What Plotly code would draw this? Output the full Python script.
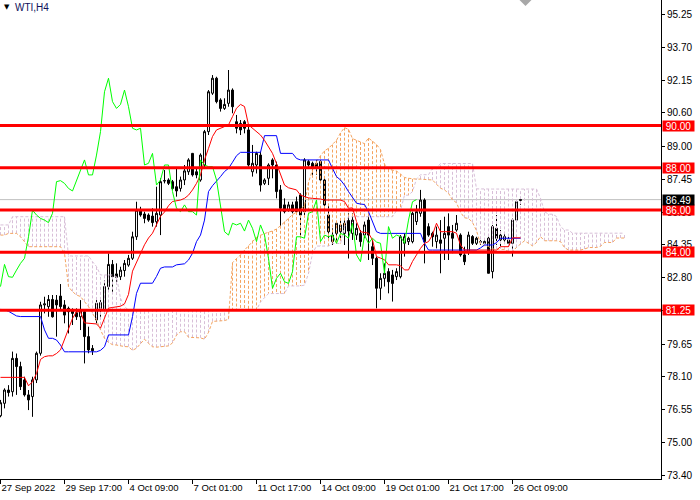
import plotly.graph_objects as go

# ---------------- data ----------------
symbol_label = "WTI,H4"
x_tick_idx = [0, 16, 32, 48, 64, 80, 96, 112, 128]
x_tick_text = ["27 Sep 2022", "29 Sep 17:00", "4 Oct 09:00", "7 Oct 01:00", "11 Oct 17:00",
               "14 Oct 09:00", "19 Oct 01:00", "21 Oct 17:00", "26 Oct 09:00"]
y_tick_vals = [95.25, 93.70, 92.15, 90.60, 89.00, 87.45, 85.90, 84.35, 82.80, 81.25,
               79.65, 78.10, 76.55, 75.00, 73.40]
levels = [90.00, 88.00, 86.00, 84.00, 81.25]
last_price = 86.49
chikou_shift = 26

opens = [76.25, 76.84, 77.47, 77.39, 78.97, 78.58, 77.95, 77.24, 77.16, 77.95,
         79.21, 81.50, 81.42, 81.76, 81.73, 81.92, 81.50, 81.34, 81.26, 81.13,
         80.94, 81.18, 80.00, 79.44, 80.79, 81.34, 81.26, 82.37, 83.42, 82.97,
         82.84, 83.13, 83.39, 83.71, 84.73, 85.99, 85.81, 85.76, 85.71, 85.44,
         85.76, 87.37, 87.42, 87.34, 87.10, 87.02, 87.42, 87.81, 88.68, 87.81,
         87.42, 88.13, 89.71, 91.53, 92.24, 91.21, 90.81, 91.05, 91.68, 90.18,
         90.10, 90.18, 89.79, 87.81, 88.13, 88.60, 87.26, 87.50, 88.37, 88.13,
         86.95, 86.24, 86.00, 86.24, 86.39, 86.71, 85.92, 88.29, 88.21, 88.21,
         88.29, 87.42, 85.76, 84.50, 84.89, 84.97, 84.89, 85.50, 84.89, 84.81,
         84.89, 84.81, 85.52, 84.26, 83.71, 82.29, 82.76, 83.08, 82.92, 82.84,
         82.84, 84.42, 84.50, 84.50, 85.45, 85.84, 86.47, 85.21, 84.89, 84.50,
         84.58, 84.66, 85.21, 84.89, 85.05, 84.81, 83.87, 84.03, 84.74, 84.42,
         84.50, 84.50, 84.66, 83.08, 85.13, 84.58, 84.58, 84.58, 84.42, 85.52,
         86.45]
highs = [77.00, 77.55, 77.70, 79.29, 79.20, 78.81, 78.10, 77.47, 78.10, 79.29,
         81.65, 81.89, 81.97, 81.97, 81.97, 82.49, 81.73, 81.42, 81.34, 81.34,
         81.73, 81.26, 80.47, 79.60, 81.73, 81.73, 82.68, 83.94, 83.63, 83.47,
         83.31, 83.63, 83.87, 84.97, 86.39, 86.15, 85.92, 85.84, 86.08, 87.10,
         87.50, 87.89, 87.50, 87.42, 87.97, 87.58, 88.13, 88.45, 88.70, 87.97,
         88.68, 89.79, 91.68, 92.39, 92.31, 91.29, 91.29, 92.63, 91.76, 90.50,
         90.26, 90.26, 90.03, 89.08, 88.76, 88.76, 87.50, 88.21, 88.45, 88.29,
         87.18, 86.55, 86.39, 86.39, 86.63, 86.79, 88.45, 88.37, 88.29, 88.37,
         88.37, 87.50, 86.24, 85.13, 85.45, 85.52, 85.52, 85.84, 85.84, 85.37,
         85.05, 85.45, 85.84, 84.58, 83.79, 83.00, 83.47, 83.24, 83.16, 83.24,
         84.81, 84.89, 84.73, 85.92, 86.24, 86.95, 86.55, 85.37, 84.97, 85.21,
         85.52, 85.68, 85.84, 85.29, 85.76, 84.89, 84.26, 84.97, 84.81, 84.73,
         84.58, 84.58, 84.73, 85.29, 85.76, 85.05, 84.89, 84.73, 85.60, 86.47,
         86.55]
lows = [76.18, 76.60, 77.16, 77.16, 77.24, 77.47, 77.16, 76.52, 76.20, 77.80,
        79.10, 81.10, 80.94, 80.90, 80.00, 81.26, 80.63, 80.15, 80.55, 80.79,
        80.31, 78.73, 79.21, 79.13, 80.63, 80.94, 81.10, 82.21, 82.05, 82.60,
        82.68, 82.84, 83.31, 83.63, 84.58, 85.68, 85.37, 85.44, 85.21, 85.21,
        84.81, 87.26, 87.18, 86.95, 86.63, 86.87, 87.18, 87.66, 87.58, 87.50,
        87.34, 87.97, 89.55, 91.45, 91.05, 90.66, 90.74, 90.89, 90.58, 89.63,
        89.55, 89.63, 88.05, 87.58, 87.73, 86.87, 87.18, 87.18, 87.50, 86.55,
        85.21, 85.84, 85.92, 85.84, 85.84, 84.66, 85.76, 88.05, 87.66, 87.66,
        87.34, 85.92, 84.66, 84.34, 84.42, 84.58, 84.34, 83.70, 84.58, 84.58,
        84.26, 84.66, 83.63, 83.39, 81.34, 81.74, 82.37, 82.05, 81.66, 82.68,
        82.76, 83.79, 84.34, 84.42, 85.29, 85.68, 83.47, 84.73, 84.26, 84.18,
        83.00, 83.63, 83.63, 83.95, 84.97, 83.79, 83.39, 83.87, 84.34, 84.34,
        84.34, 84.34, 83.00, 82.76, 84.34, 84.26, 84.42, 84.26, 83.79, 85.45,
        86.24]
closes = [76.87, 77.47, 77.35, 78.97, 78.58, 77.63, 77.24, 77.00, 77.95, 79.21,
          81.50, 81.55, 81.76, 80.94, 81.50, 81.42, 81.02, 81.18, 81.10, 80.94,
          81.26, 80.00, 79.37, 79.33, 81.58, 81.61, 82.37, 83.42, 82.84, 82.81,
          83.15, 83.47, 83.71, 84.73, 85.99, 85.76, 85.60, 85.52, 85.40, 85.84,
          87.34, 87.39, 87.26, 87.02, 86.90, 87.42, 87.85, 88.37, 87.66, 87.66,
          88.60, 89.71, 91.60, 92.24, 91.13, 90.81, 91.00, 91.68, 90.89, 89.87,
          89.79, 89.87, 88.13, 88.21, 88.68, 87.18, 87.42, 88.13, 88.13, 86.87,
          86.08, 85.92, 86.24, 85.92, 85.92, 85.76, 88.37, 88.13, 88.05, 88.05,
          87.42, 86.24, 84.97, 84.81, 85.37, 85.29, 85.37, 85.00, 85.52, 85.13,
          84.50, 85.29, 84.81, 83.71, 82.29, 82.76, 83.00, 82.60, 82.52, 83.08,
          84.73, 84.73, 84.66, 85.84, 85.92, 86.47, 84.50, 84.81, 84.73, 84.81,
          84.42, 84.89, 84.81, 84.66, 85.37, 83.87, 83.55, 84.81, 84.42, 84.66,
          84.48, 84.42, 83.00, 85.21, 84.66, 84.81, 84.74, 84.42, 85.52, 86.39,
          86.49]

tenkan = [78.07, 78.07, 78.07, 78.07, 78.07, 78.07, 78.07, 77.67, 77.86, 78.25,
          78.92, 79.05, 79.09, 79.09, 79.20, 79.37, 79.84, 80.30, 80.86, 81.18,
          81.18, 80.65, 80.63, 80.63, 80.60, 80.40, 80.87, 81.35, 81.38, 81.40,
          81.44, 81.55, 82.00, 83.10, 83.50, 83.96, 84.35, 84.67, 84.90, 85.30,
          85.70, 85.90, 86.20, 86.40, 86.44, 86.47, 86.55, 86.70, 86.95, 87.26,
          87.66, 88.37, 88.92, 89.48, 89.79, 89.87, 89.95, 90.03, 90.42, 90.82,
          91.00, 90.90, 90.03, 89.87, 89.70, 89.55, 89.30, 89.00, 88.68, 88.20,
          87.66, 87.18, 87.05, 86.99, 86.95, 86.70, 86.62, 86.57, 86.55, 86.55,
          86.52, 86.47, 86.47, 86.47, 86.47, 86.47, 86.40, 86.08, 86.10, 85.45,
          84.97, 84.93, 84.90, 84.58, 83.79, 83.72, 83.64, 83.40, 83.40, 83.40,
          83.36, 83.16, 83.16, 83.56, 83.87, 84.18, 84.42, 84.50, 84.82, 85.37,
          84.97, 84.97, 84.97, 84.97, 84.90, 84.34, 84.10, 84.10, 84.10, 84.10,
          84.10, 84.10, 84.10, 84.10, 84.10, 84.26, 84.26, 84.26, 84.68, 84.68,
          84.68]
kijun = [81.29, 81.27, 81.20, 81.10, 80.98, 80.95, 80.95, 80.95, 80.95, 80.95,
         80.95, 80.32, 79.92, 79.92, 79.84, 79.60, 79.28, 79.28, 79.28, 79.28,
         79.28, 79.28, 79.28, 79.28, 79.28, 79.35, 79.52, 80.08, 80.08, 80.08,
         80.08, 80.08, 80.08, 80.95, 82.05, 82.53, 82.53, 82.53, 82.53, 82.85,
         83.24, 83.30, 83.30, 83.30, 83.40, 83.42, 83.45, 83.63, 83.95, 84.50,
         84.81, 85.52, 86.87, 87.15, 87.34, 87.58, 87.82, 87.97, 88.26, 88.57,
         88.73, 88.73, 88.73, 88.73, 88.73, 88.73, 89.52, 89.52, 89.52, 89.52,
         88.68, 88.68, 88.68, 88.68, 88.44, 88.37, 88.37, 88.37, 88.37, 88.37,
         88.37, 88.37, 88.37, 87.97, 87.58, 87.42, 87.18, 86.87, 86.60, 86.32,
         86.28, 86.26, 85.92, 85.45, 84.97, 84.89, 84.89, 84.89, 84.89, 84.89,
         84.89, 84.89, 84.89, 84.89, 84.89, 84.89, 84.42, 84.10, 84.10, 84.10,
         84.10, 84.10, 84.10, 84.10, 84.10, 84.10, 84.10, 84.10, 84.10, 84.10,
         84.20, 84.34, 84.34, 84.34, 84.45, 84.66, 84.66, 84.66, 84.66, 84.66,
         84.66]

# cloud spans, indexed by chart position (already displaced 26 bars ahead)
span_a = [84.81, 84.81, 84.89, 84.90, 84.89, 84.73, 84.50, 84.26, 84.26, 84.26,
          84.26, 84.26, 84.26, 84.26, 84.26, 84.26, 83.95, 82.37, 82.13, 81.97,
          81.90, 81.66, 81.42, 81.10, 80.79, 80.32, 79.92, 79.72, 79.62, 79.60,
          79.56, 79.53, 79.52, 79.35, 79.45, 79.65, 79.88, 79.68, 79.52, 79.50,
          79.52, 79.52, 79.56, 79.70, 80.07, 80.23, 80.23, 79.97, 79.96, 79.96,
          79.94, 79.88, 80.20, 80.72, 80.73, 80.74, 80.76, 80.82, 83.50, 83.70,
          83.87, 84.10, 84.30, 84.55, 84.70, 84.80, 84.88, 84.95, 85.00, 85.10,
          85.25, 85.45, 85.60, 85.78, 85.90, 86.00, 86.24, 87.30, 87.90, 88.30,
          88.57, 88.80, 88.92, 89.10, 89.30, 89.65, 89.90, 89.82, 89.38, 89.30,
          89.22, 89.14, 89.41, 89.26, 89.10, 88.86, 88.17, 87.93, 87.87, 87.84,
          87.70, 87.54, 87.50, 87.47, 87.46, 87.46, 87.45, 87.42, 87.42, 87.22,
          87.03, 86.95, 86.79, 86.48, 86.34, 85.89, 85.63, 85.60, 85.41, 85.02,
          84.38, 84.31, 84.27, 84.15, 84.15, 84.15, 84.13, 84.03, 84.03, 84.23,
          84.38, 84.54, 84.42, 84.30, 84.46, 84.74, 84.54, 84.54, 84.54, 84.54,
          84.50, 84.22, 84.10, 84.10, 84.10, 84.10, 84.15, 84.22, 84.22, 84.22,
          84.28, 84.46, 84.46, 84.46, 84.67, 84.67, 84.67]
span_b = [85.29, 85.29, 85.29, 85.68, 85.68, 85.68, 85.68, 85.68, 85.68, 85.68,
          85.68, 85.68, 85.68, 85.68, 85.68, 85.68, 85.68, 83.82, 83.82, 83.82,
          83.82, 83.82, 83.82, 83.55, 83.32, 82.92, 82.92, 82.92, 82.92, 82.84,
          81.82, 81.42, 81.26, 81.26, 81.26, 81.26, 81.26, 81.26, 81.26, 81.26,
          81.26, 81.26, 81.26, 81.26, 81.26, 81.26, 81.26, 81.26, 81.26, 81.26,
          81.26, 81.26, 81.26, 81.26, 81.26, 81.26, 81.26, 81.26, 81.26, 81.26,
          81.26, 81.26, 81.26, 81.26, 81.26, 81.64, 81.84, 82.04, 82.04, 82.04,
          82.04, 82.04, 82.40, 82.40, 82.40, 82.40, 82.44, 82.99, 83.94, 84.29,
          84.29, 84.29, 84.29, 84.41, 84.41, 84.41, 85.20, 85.68, 85.68, 85.68,
          85.68, 85.68, 85.68, 85.68, 85.68, 85.68, 85.68, 85.68, 85.68, 85.97,
          85.97, 86.70, 86.70, 86.87, 87.47, 87.67, 87.67, 87.67, 87.97, 87.97,
          88.20, 88.20, 88.20, 88.20, 88.20, 88.20, 88.20, 88.20, 88.20, 87.00,
          86.99, 86.99, 86.99, 86.99, 86.99, 86.99, 86.99, 86.99, 86.99, 86.99,
          86.99, 86.99, 86.99, 86.99, 86.99, 86.55, 85.92, 85.80, 85.80, 85.69,
          85.21, 85.05, 85.05, 84.90, 84.90, 84.90, 84.90, 84.90, 84.90, 84.90,
          84.90, 84.90, 84.90, 84.90, 84.90, 84.90, 84.90]

# ---------------- figure ----------------
FONT = "Liberation Sans, Arial, sans-serif"
SANDY = "#F4A460"
THISTLE = "#D8BFD8"

bars = list(range(len(closes)))
cloud_pos = list(range(len(span_a)))

fig = go.Figure()

fig.add_trace(go.Candlestick(
    x=bars, open=opens, high=highs, low=lows, close=closes,
    increasing=dict(line=dict(color="black", width=1), fillcolor="white"),
    decreasing=dict(line=dict(color="black", width=1), fillcolor="black"),
    whiskerwidth=0, showlegend=False, hoverinfo="skip"))

# cloud histogram (vertical dotted strokes between span A and span B)
ox, oy, tx, ty = [], [], [], []
for j, a, b in zip(cloud_pos, span_a, span_b):
    if a >= b:
        ox += [j, j, None]; oy += [a, b, None]
    else:
        tx += [j, j, None]; ty += [a, b, None]
fig.add_trace(go.Scatter(x=tx, y=ty, mode="lines", showlegend=False, hoverinfo="skip",
                         line=dict(color=THISTLE, width=1, dash="3px,2px")))
fig.add_trace(go.Scatter(x=ox, y=oy, mode="lines", showlegend=False, hoverinfo="skip",
                         line=dict(color=SANDY, width=1, dash="3px,2px")))
fig.add_trace(go.Scatter(x=cloud_pos, y=span_b, mode="lines", showlegend=False, hoverinfo="skip",
                         line=dict(color=THISTLE, width=1, dash="3px,2px")))
fig.add_trace(go.Scatter(x=cloud_pos, y=span_a, mode="lines", showlegend=False, hoverinfo="skip",
                         line=dict(color=SANDY, width=1, dash="3px,2px")))

fig.add_trace(go.Scatter(x=bars, y=kijun, mode="lines", showlegend=False, hoverinfo="skip",
                         line=dict(color="#0000FF", width=1)))
fig.add_trace(go.Scatter(x=bars, y=tenkan, mode="lines", showlegend=False, hoverinfo="skip",
                         line=dict(color="#FF0000", width=1)))
fig.add_trace(go.Scatter(x=[i - chikou_shift for i in bars[chikou_shift:]],
                         y=closes[chikou_shift:], mode="lines", showlegend=False,
                         hoverinfo="skip", line=dict(color="#00FF00", width=1)))

shapes = [dict(type="line", xref="paper", x0=0, x1=1, yref="y", y0=last_price, y1=last_price,
               line=dict(color="#C0C0C0", width=1), layer="below")]
for lv in levels:
    shapes.append(dict(type="line", xref="paper", x0=0, x1=1, yref="y", y0=lv, y1=lv,
                       line=dict(color="#FF0000", width=3), layer="above"))
# chart-shift marker at the top
shapes.append(dict(type="path", xref="x", yref="paper",
                   path="M 129.75,1 L 132.75,1 L 131.25,0.9875 Z",
                   fillcolor="#A8A8A8", line=dict(width=0), layer="above"))

annotations = []
for lv in levels:
    annotations.append(dict(xref="paper", x=1, xanchor="left", xshift=1, yref="y", y=lv,
                            yanchor="middle", text=f"{lv:.2f}", showarrow=False,
                            bgcolor="#FF0000", font=dict(family=FONT, size=10, color="white"),
                            borderpad=0, width=31, height=10, align="center"))
annotations.append(dict(xref="paper", x=1, xanchor="left", xshift=1, yref="y", y=last_price,
                        yanchor="middle", text=f"{last_price:.2f}", showarrow=False,
                        bgcolor="#000000", font=dict(family=FONT, size=10, color="white"),
                        borderpad=0, width=31, height=10, align="center"))
annotations.append(dict(xref="paper", yref="paper", x=0, y=1, xanchor="left", yanchor="top",
                        xshift=2, yshift=-1, text="▼", showarrow=False,
                        font=dict(family="DejaVu Sans", size=7, color="black")))
annotations.append(dict(xref="paper", yref="paper", x=0, y=1, xanchor="left", yanchor="top",
                        xshift=13, text=symbol_label, showarrow=False,
                        font=dict(family=FONT, size=10, color="#10105a")))

# tick labels fully hidden behind a level box are left blank
hidden = set(levels)
y_tick_text = ["" if v in hidden else f"{v:.2f}" for v in y_tick_vals]

fig.update_layout(
    width=700, height=500,
    margin=dict(l=0, r=39, t=0, b=21, autoexpand=False),
    paper_bgcolor="white", plot_bgcolor="white",
    showlegend=False, hovermode=False,
    shapes=shapes, annotations=annotations,
    xaxis=dict(range=[-0.125, 165.125], showgrid=False, zeroline=False,
               showline=True, linecolor="black", linewidth=1,
               ticks="outside", ticklen=4, tickcolor="black",
               tickvals=x_tick_idx, ticktext=x_tick_text, tickangle=0,
               ticklabelposition="outside right", automargin=False,
               tickfont=dict(family=FONT, size=9.5, color="black"),
               rangeslider=dict(visible=False), fixedrange=True),
    yaxis=dict(range=[73.255, 95.946], side="right", showgrid=False, zeroline=False,
               showline=True, linecolor="black", linewidth=1,
               ticks="outside", ticklen=3, tickcolor="black", automargin=False,
               tickvals=y_tick_vals, ticktext=y_tick_text,
               tickfont=dict(family=FONT, size=10, color="black"), fixedrange=True),
)

fig.write_html("out.html", config={"displayModeBar": False},
               post_script="document.body.style.margin='0px';")
